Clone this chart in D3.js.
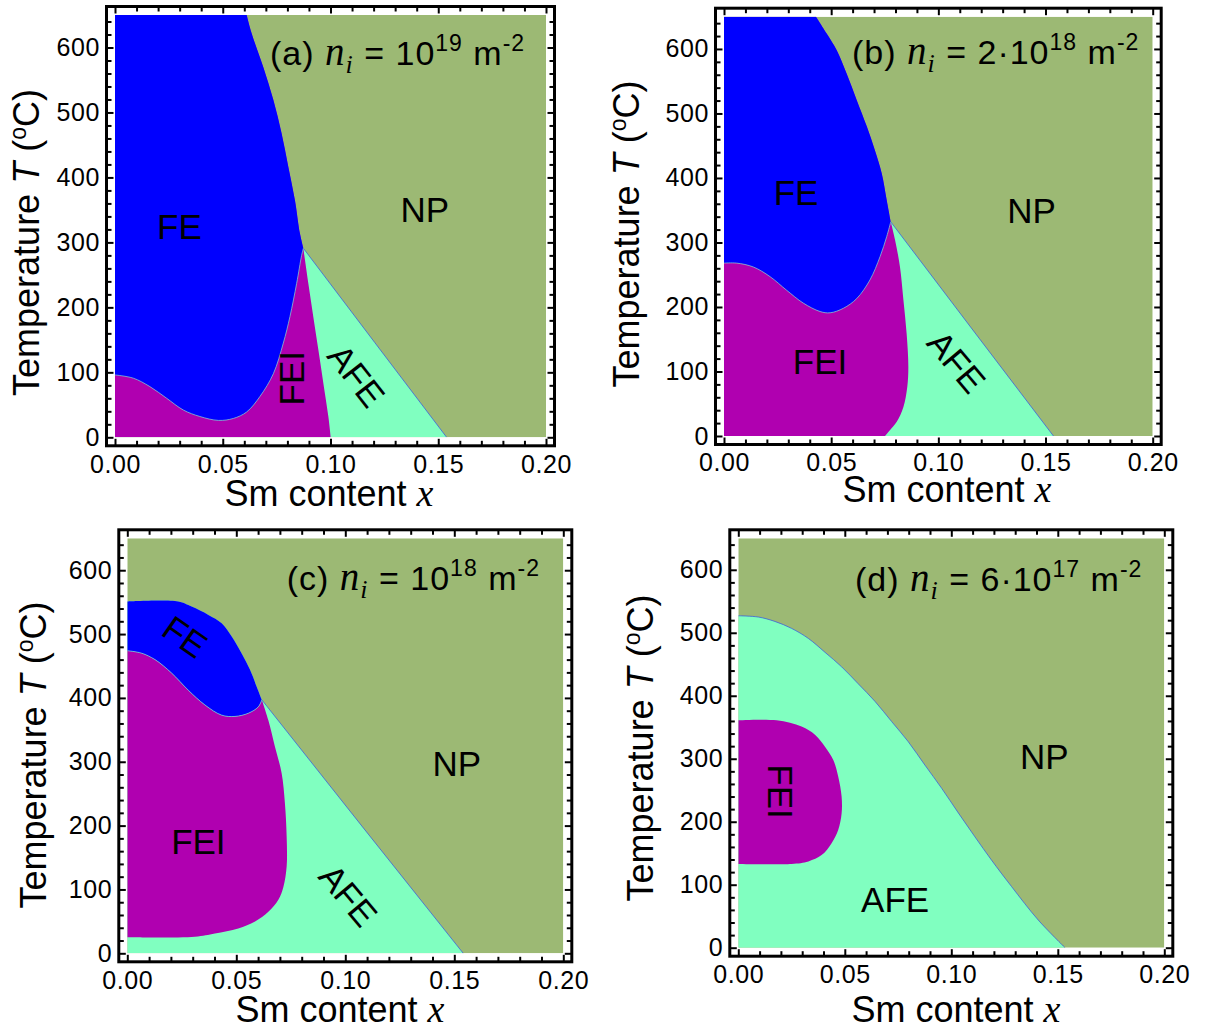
<!DOCTYPE html>
<html>
<head>
<meta charset="utf-8">
<script src="https://cdn.jsdelivr.net/npm/d3@7/dist/d3.min.js"></script>
<style>
  html, body { margin: 0; padding: 0; background: #ffffff; }
  svg { display: block; }
</style>
</head>
<body>
<svg id="chart" width="1214" height="1030"></svg>
<script>
// ---------------- DATA ----------------
const X_DOMAIN = [0, 0.2];
const T_DOMAIN = [0, 650];
const xTicks = [0, 0.05, 0.10, 0.15, 0.20];
const xTickLabels = ["0.00", "0.05", "0.10", "0.15", "0.20"];
const xMinorTicks = [0.01, 0.02, 0.03, 0.04, 0.06, 0.07, 0.08, 0.09, 0.11, 0.12, 0.13, 0.14, 0.16, 0.17, 0.18, 0.19];
const yTicks = [0, 100, 200, 300, 400, 500, 600];
const yMinorTicks = [20, 40, 60, 80, 120, 140, 160, 180, 220, 240, 260, 280, 320, 340, 360, 380, 420, 440, 460, 480, 520, 540, 560, 580, 620, 640];

const panelTags = ["(a)", "(b)", "(c)", "(d)"];
const niMantissa = ["", "2·", "", "6·"];
const niExponent = ["19", "18", "18", "17"];

// Panel (a): n_i = 1e19 m^-2  — boundaries as [x, T(°C)]
const aFE_NP = [[0.0611, 650], [0.0634, 622], [0.0688, 570], [0.0735, 519], [0.0773, 468], [0.0804, 417], [0.0835, 365], [0.0858, 314], [0.0874, 291]];
const aFE_FEI = [[0, 96], [0.0085, 91], [0.0162, 78], [0.024, 60], [0.0317, 42], [0.0394, 32], [0.048, 26], [0.0549, 29], [0.0611, 39], [0.0673, 63], [0.0735, 98], [0.0781, 145], [0.0812, 186], [0.0843, 237], [0.0866, 280], [0.0874, 291]];
const aFEI_AFE = [[0.0874, 291], [0.0897, 237], [0.092, 186], [0.0944, 134], [0.0967, 83], [0.099, 32], [0.1001, 0]];
const aAFE_NP = [[0.0874, 291], [0.1205, 146], [0.1539, 0]];

// Panel (b): n_i = 2e18 m^-2
const bFE_NP = [[0.0429, 650], [0.0479, 624], [0.0526, 598], [0.0572, 562], [0.0619, 521], [0.0666, 480], [0.0704, 443], [0.0736, 407], [0.0759, 366], [0.0778, 332]];
const bFE_FEI = [[0, 268], [0.0059, 268], [0.0137, 262], [0.0215, 247], [0.0292, 226], [0.037, 206], [0.0448, 193], [0.0495, 191], [0.0557, 198], [0.0619, 213], [0.0681, 242], [0.0728, 278], [0.0759, 309], [0.0778, 332]];
const bFEI_AFE = [[0.0778, 332], [0.0798, 304], [0.0821, 262], [0.0837, 211], [0.0852, 159], [0.086, 107], [0.0855, 76], [0.0837, 45], [0.0806, 22], [0.0774, 9], [0.0751, 0]];
const bAFE_NP = [[0.0778, 332], [0.1157, 166], [0.1537, 0]];

// Panel (c): n_i = 1e18 m^-2
const cFE_NP = [[0, 551], [0.0234, 551], [0.0295, 543], [0.0372, 530], [0.0433, 517], [0.0479, 496], [0.0524, 470], [0.0563, 444], [0.0593, 418], [0.0617, 397]];
const cFE_FEI = [[0, 474], [0.0066, 470], [0.0127, 460], [0.0203, 439], [0.028, 412], [0.0356, 389], [0.0433, 373], [0.0494, 371], [0.0555, 376], [0.0601, 386], [0.0617, 397]];
const cFEI_AFE = [[0.0617, 397], [0.0647, 365], [0.0677, 324], [0.0708, 282], [0.0723, 235], [0.0731, 183], [0.0731, 136], [0.0716, 104], [0.0693, 84], [0.0647, 65], [0.0586, 50], [0.0509, 39], [0.0402, 31], [0.031, 26], [0, 25]];
const cAFE_NP = [[0.0617, 397], [0.1079, 198], [0.1541, 0]];

// Panel (d): n_i = 6e17 m^-2
const dAFE_NP = [[0, 527], [0.0094, 525], [0.0172, 518], [0.025, 507], [0.0329, 491], [0.0407, 469], [0.0485, 446], [0.0563, 419], [0.0642, 391], [0.072, 359], [0.0798, 327], [0.0876, 290], [0.0955, 253], [0.1033, 214], [0.1111, 176], [0.1189, 139], [0.1283, 97], [0.1408, 44], [0.1534, 0]];
const dFEI_AFE = [[0, 361], [0.018, 361], [0.0297, 351], [0.036, 338], [0.0407, 319], [0.0446, 298], [0.0469, 272], [0.0485, 240], [0.0485, 213], [0.0469, 187], [0.0438, 166], [0.0391, 147], [0.0329, 137], [0.025, 133], [0, 133]];

// Phase labels: [text, x, T, rotation]
const aLabels = [["FE", 0.0299, 324, 0], ["NP", 0.1438, 350, 0], ["FEI", 0.082, 91, -90], ["AFE", 0.1121, 95, 52]];
const bLabels = [["FE", 0.0336, 377, 0], ["NP", 0.1435, 349, 0], ["FEI", 0.0448, 116, 0], ["AFE", 0.1086, 115, 50]];
const cLabels = [["FE", 0.0265, 496, 35], ["NP", 0.1511, 298, 0], ["FEI", 0.0326, 175, 0], ["AFE", 0.1014, 91, 50]];
const dLabels = [["NP", 0.1437, 303, 0], ["AFE", 0.0736, 76, 0], ["FEI", 0.0196, 248, 90]];

// ---------------- STYLE / LAYOUT ----------------
const COLORS = { NP: "#9cb974", AFE: "#80ffc0", FEI: "#b000b0", FE: "#0000ff" };
const SANS = "'Liberation Sans', Arial, Helvetica, sans-serif";
const SERIF = "'Liberation Serif', 'Times New Roman', serif";
const PAD = 8.5;

const layouts = [
  { x0: 115,   x1: 546,    y0: 15,    y1: 437.3, yTitle: [38.5, 242.5], xTitle: [329, 506],   annot: [270, 64.5] },
  { x0: 724,   x1: 1152.7, y0: 16.7,  y1: 436,   yTitle: [639, 234],    xTitle: [947, 502],   annot: [852, 63.5] },
  { x0: 127.3, x1: 563.3,  y0: 538.3, y1: 953.3, yTitle: [46, 755],     xTitle: [340, 1021.5], annot: [286.7, 590] },
  { x0: 738.3, x1: 1164.3, y0: 538.3, y1: 947.7, yTitle: [653, 748],    xTitle: [956, 1021.5], annot: [855, 590.5] }
];

// Each region = list of boundary segments traversed in order (straight axis edges + curved boundaries)
const rev = a => a.slice().reverse();
const regions = [
  [
    ["AFE", [[[0, 0], [0, 650], [0.0611, 650]], aFE_NP, aAFE_NP]],
    ["FEI", [[[0, 0], [0, 650], [0.0611, 650]], aFE_NP, aFEI_AFE]],
    ["FE",  [[[0, 650], [0.0611, 650]], aFE_NP, rev(aFE_FEI)]]
  ],
  [
    ["AFE", [[[0, 0], [0, 650], [0.0429, 650]], bFE_NP, bAFE_NP]],
    ["FEI", [[[0, 0], [0, 650], [0.0429, 650]], bFE_NP, bFEI_AFE]],
    ["FE",  [[[0, 650], [0.0429, 650]], bFE_NP, rev(bFE_FEI)]]
  ],
  [
    ["AFE", [[[0, 0], [0, 551]], cFE_NP, cAFE_NP]],
    ["FEI", [cFE_FEI, cFEI_AFE]],
    ["FE",  [cFE_NP, rev(cFE_FEI)]]
  ],
  [
    ["AFE", [[[0, 0], [0, 527]], dAFE_NP]],
    ["FEI", [dFEI_AFE]]
  ]
];
const npLines = [aAFE_NP, bAFE_NP, cAFE_NP, dAFE_NP];
const feLines = [aFE_FEI, bFE_FEI, cFE_FEI, null];
const labels = [aLabels, bLabels, cLabels, dLabels];

// ---------------- DRAW ----------------
const svg = d3.select("#chart");
const defs = svg.append("defs");

layouts.forEach((L, i) => {
  const xs = d3.scaleLinear().domain(X_DOMAIN).range([L.x0, L.x1]);
  const ys = d3.scaleLinear().domain(T_DOMAIN).range([L.y1, L.y0]);
  const curve = d3.line().x(d => xs(d[0])).y(d => ys(d[1])).curve(d3.curveCatmullRom.alpha(0.5));
  const straight = d3.line().x(d => xs(d[0])).y(d => ys(d[1]));
  const segPath = (seg, k) => {
    const s = (seg.length > 3 ? curve(seg) : straight(seg));
    return k === 0 ? s : s.replace(/^M/, "L");
  };
  const polyPath = segs => segs.map(segPath).join("") + "Z";
  const g = svg.append("g");

  const clipId = "clip" + i;
  defs.append("clipPath").attr("id", clipId).append("rect")
    .attr("x", xs(X_DOMAIN[0])).attr("y", ys(T_DOMAIN[1]))
    .attr("width", xs(X_DOMAIN[1]) - xs(X_DOMAIN[0]))
    .attr("height", ys(T_DOMAIN[0]) - ys(T_DOMAIN[1]));

  const pg = g.append("g").attr("clip-path", `url(#${clipId})`);

  // background NP phase
  pg.append("rect")
    .attr("x", xs(X_DOMAIN[0])).attr("y", ys(T_DOMAIN[1]))
    .attr("width", xs(X_DOMAIN[1]) - xs(X_DOMAIN[0]))
    .attr("height", ys(T_DOMAIN[0]) - ys(T_DOMAIN[1]))
    .attr("fill", COLORS.NP);

  regions[i].forEach(([ph, segs]) => {
    pg.append("path").attr("d", polyPath(segs)).attr("fill", COLORS[ph]);
  });

  // thin boundary lines
  pg.append("path").attr("d", segPath(npLines[i], 0)).attr("fill", "none")
    .attr("stroke", "#3a5ae0").attr("stroke-width", 1).attr("opacity", 0.75);
  if (feLines[i]) {
    pg.append("path").attr("d", segPath(feLines[i], 0)).attr("fill", "none")
      .attr("stroke", "#8ad8d0").attr("stroke-width", 0.9).attr("opacity", 0.8);
  }

  // frame
  const fx0 = L.x0 - PAD, fx1 = L.x1 + PAD, fy0 = L.y0 - PAD, fy1 = L.y1 + PAD;

  const styleAxis = (sel, w) => {
    sel.select(".domain").remove();
    sel.selectAll(".tick line").attr("stroke", "#000").attr("stroke-width", w);
    sel.selectAll("text")
      .attr("fill", "#000")
      .style("font-family", SANS)
      .style("font-size", "25px")
      .style("letter-spacing", "0.6px");
  };

  // major axes with labels
  const gb = g.append("g").attr("transform", `translate(0,${fy1})`)
    .call(d3.axisBottom(xs).tickValues(xTicks).tickFormat((d, k) => xTickLabels[k]).tickSize(-7).tickPadding(9));
  styleAxis(gb, 2);
  const gl = g.append("g").attr("transform", `translate(${fx0},0)`)
    .call(d3.axisLeft(ys).tickValues(yTicks).tickFormat(d3.format("d")).tickSize(-7).tickPadding(6.5));
  styleAxis(gl, 2);
  const gt = g.append("g").attr("transform", `translate(0,${fy0})`)
    .call(d3.axisTop(xs).tickValues(xTicks).tickFormat("").tickSize(-7));
  styleAxis(gt, 2);
  const gr = g.append("g").attr("transform", `translate(${fx1},0)`)
    .call(d3.axisRight(ys).tickValues(yTicks).tickFormat("").tickSize(-7));
  styleAxis(gr, 2);

  // minor ticks
  [["b", fy1], ["t", fy0]].forEach(([s, pos]) => {
    const ax = s === "b" ? d3.axisBottom(xs) : d3.axisTop(xs);
    const m = g.append("g").attr("transform", `translate(0,${pos})`)
      .call(ax.tickValues(xMinorTicks).tickFormat("").tickSize(-5));
    styleAxis(m, 2);
  });
  [["l", fx0], ["r", fx1]].forEach(([s, pos]) => {
    const ax = s === "l" ? d3.axisLeft(ys) : d3.axisRight(ys);
    const m = g.append("g").attr("transform", `translate(${pos},0)`)
      .call(ax.tickValues(yMinorTicks).tickFormat("").tickSize(-5));
    styleAxis(m, 2);
  });

  g.append("rect")
    .attr("x", fx0).attr("y", fy0).attr("width", fx1 - fx0).attr("height", fy1 - fy0)
    .attr("fill", "none").attr("stroke", "#000").attr("stroke-width", 3);

  // phase labels
  labels[i].forEach(([txt, x, T, rot]) => {
    g.append("text")
      .attr("transform", `translate(${xs(x)},${ys(T)}) rotate(${rot})`)
      .attr("text-anchor", "middle")
      .attr("dominant-baseline", "central")
      .style("font-family", SANS).style("font-size", "35px").attr("fill", "#000")
      .text(txt);
  });

  // annotation
  const an = g.append("text")
    .attr("x", L.annot[0]).attr("y", L.annot[1])
    .style("font-family", SANS).style("font-size", "34px").style("letter-spacing", "1px")
    .attr("fill", "#000");
  an.append("tspan").text(panelTags[i] + " ");
  an.append("tspan").style("font-family", SERIF).style("font-style", "italic").style("font-size", "39px").text("n");
  an.append("tspan").style("font-family", SERIF).style("font-style", "italic").style("font-size", "26px").attr("dy", 8).text("i");
  an.append("tspan").attr("dy", -8).text(" = " + niMantissa[i] + "10");
  an.append("tspan").style("font-size", "23px").attr("dy", -14).text(niExponent[i]);
  an.append("tspan").attr("dy", 14).text(" m");
  an.append("tspan").style("font-size", "23px").attr("dy", -14).text("-2");

  // x title
  const xt = g.append("text")
    .attr("x", L.xTitle[0]).attr("y", L.xTitle[1])
    .attr("text-anchor", "middle")
    .style("font-family", SANS).style("font-size", "36px").attr("fill", "#000");
  xt.append("tspan").text("Sm content ");
  xt.append("tspan").style("font-family", SERIF).style("font-style", "italic").style("font-size", "38px").text("x");

  // y title
  const yt = g.append("text")
    .attr("transform", `translate(${L.yTitle[0]},${L.yTitle[1]}) rotate(-90)`)
    .attr("text-anchor", "middle")
    .style("font-family", SANS).style("font-size", "36px").attr("fill", "#000");
  yt.append("tspan").text("Temperature ");
  yt.append("tspan").style("font-style", "italic").text("T");
  yt.append("tspan").text(" (");
  yt.append("tspan").style("font-size", "23px").attr("dy", -13).text("o");
  yt.append("tspan").attr("dy", 13).text("C)");
});
</script>
</body>
</html>
